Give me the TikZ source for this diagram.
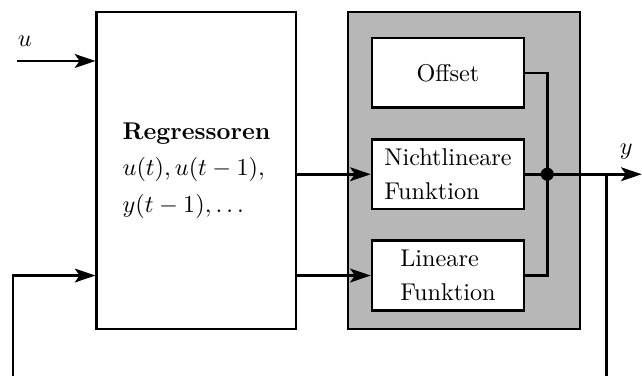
\documentclass[tikz,border=0pt]{standalone}
\usepackage{amsmath, amssymb}
\usepackage{xcolor}
\usepackage{tikz}
\usetikzlibrary{positioning,arrows.meta}
\definecolor{kerngrau}{RGB}{183,183,183}

\begin{document}
\begin{tikzpicture}[
  node distance=0.42cm,
  line width=1.1pt,
  >={Stealth[length=3mm,width=2mm,inset=0.7mm]},
  block/.style={
    draw,
    rectangle,
    fill=white,
    align=left,
    inner sep=2pt,
    minimum width=2.2cm,
    minimum height=1.01cm
  }
]
\clip (0,0) rectangle (9.309,5.452);

% Regressoren
\node (reg) [draw, align=left, minimum width=2.89cm, minimum height=4.6cm] at (2.849,2.98) {
\textbf{Regressoren}\\[3pt]
$u(t), u(t-1),$\\[3pt]
$y(t-1), \dots$
};

% Modell
\node (kern) [draw, fill=kerngrau, minimum width=3.364cm, minimum height=4.6cm] at (6.728,2.98) {};

\node (offset) [block, align=center] at (6.496,4.394) {Offset};
\node (nonlin) [block, below=of offset] {Nichtlineare\\[2pt]Funktion};
\node (lin) [block, below=of nonlin] {Lineare\\[2pt]Funktion};

% Eingang u
\coordinate (uin) at (0.2465,4.5675);
\node (ulabel) at (0.36,4.85) {$u$};
\draw[->] (uin) -- (uin -| reg.west);

\draw[->] (reg.east |- nonlin) -- (nonlin);
\draw[->] (reg.east |- lin) -- (lin);

% Summation und Ausgang y
\coordinate (knot) at ([xshift=0.32cm]nonlin.east);
\draw (offset.east) -| (knot) |- (lin.east);
\draw (nonlin.east) -- (knot);
\fill (knot) circle (0.095);

\coordinate (yout) at ([xshift=1.37cm]knot);
\node (ylabel) at (9.08,3.25) {$y$};
\draw[->] (knot) -- (yout);

% Rueckfuehrung
\coordinate (abzweig) at ([xshift=0.856cm]knot);
\coordinate (rueck) at (0.1885,-0.3);
\draw[->] (abzweig) |- (rueck) |- (reg.west |- lin);

\end{tikzpicture}
\end{document}
